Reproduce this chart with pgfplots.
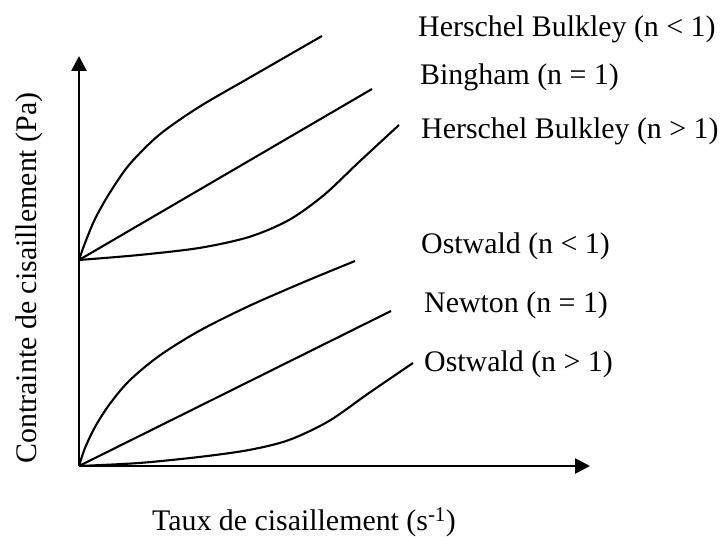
\documentclass[border=0pt]{standalone}
\usepackage{pgfplots}
\pgfplotsset{compat=1.18}
\usepackage{fontspec}
\setmainfont{Liberation Serif}
\usetikzlibrary{arrows.meta}
\begin{document}
\begin{tikzpicture}
\begin{axis}[
  x=1bp, y=1bp,
  xmin=0, xmax=511, ymin=0, ymax=410,
  enlargelimits=false,
  axis lines=left,
  axis line style={line width=2.7bp, -{Triangle[length=15bp,width=15bp]}},
  xtick=\empty, ytick=\empty,
  clip=false,
  nodes={font=\fontsize{30}{36}\selectfont, inner sep=0pt},
]
\path (axis cs:-79,-70) rectangle (axis cs:646,466);
% Herschel Bulkley n<1
\addplot[smooth, black, solid, line width=2.1bp, no marks] coordinates {(0,206) (6,223) (16,247) (30,272) (50,301) (80,331) (120,359) (170,388) (243,430)};
% Bingham
\addplot[black, solid, line width=2.1bp, no marks] coordinates {(0,206) (293,377)};
% Herschel Bulkley n>1
\addplot[smooth, black, solid, line width=2.1bp, no marks] coordinates {(0,206) (60,211) (120,218) (170,229) (210,246) (245,271) (280,304) (320,341)};
% Ostwald n<1
\addplot[smooth, black, solid, line width=2.1bp, no marks] coordinates {(0,0) (6,18) (16,39) (30,61) (50,85) (80,110) (120,135) (170,160) (225,184) (276,205)};
% Newton
\addplot[black, solid, line width=2.1bp, no marks] coordinates {(0,0) (312,155)};
% Ostwald n>1
\addplot[smooth, black, solid, line width=2.1bp, no marks] coordinates {(0,0) (60,3) (120,9) (170,16) (210,26) (250,45) (290,73) (334,103)};

\node[anchor=west] at (axis cs:339,437) {Herschel Bulkley (n < 1)};
\node[anchor=west] at (axis cs:341,389) {Bingham (n = 1)};
\node[anchor=west] at (axis cs:342,335) {Herschel Bulkley (n > 1)};
\node[anchor=west] at (axis cs:342,220) {Ostwald (n < 1)};
\node[anchor=west] at (axis cs:345,161) {Newton (n = 1)};
\node[anchor=west] at (axis cs:345,102) {Ostwald (n > 1)};
\node[rotate=90] at (axis cs:-50,188) {Contrainte de cisaillement (Pa)};
\node at (axis cs:225,-56) {Taux de cisaillement (s\textsuperscript{-1})};
\end{axis}
\end{tikzpicture}
\end{document}
